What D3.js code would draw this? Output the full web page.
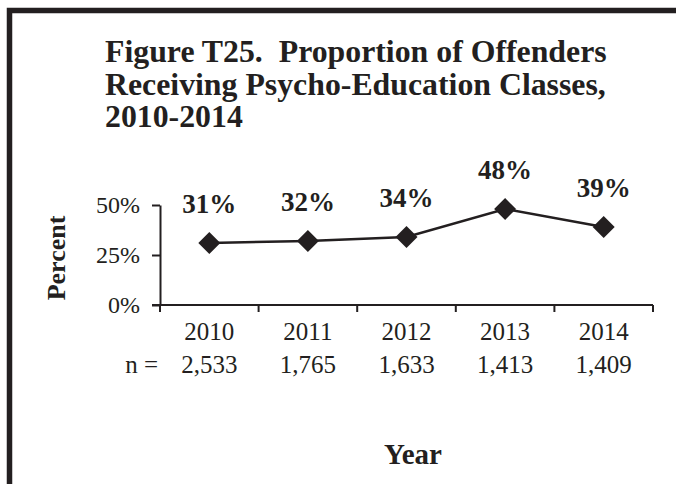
<!DOCTYPE html>
<html>
<head>
<meta charset="utf-8">
<script src="https://cdn.jsdelivr.net/npm/d3@7"></script>
<style>
  html, body { margin: 0; padding: 0; background: #fff; }
  svg { display: block; }
  text { font-family: "Liberation Serif", "Times New Roman", serif; fill: #231f20; }
</style>
</head>
<body>
<svg id="chart" width="676" height="484"></svg>
<script>
const titleLines = ["Figure T25.\u00a0\u00a0Proportion of Offenders", "Receiving Psycho-Education Classes,", "2010-2014"];
const years = ["2010", "2011", "2012", "2013", "2014"];
const nValues = ["2,533", "1,765", "1,633", "1,413", "1,409"];
const percents = [31, 32, 34, 48, 39];
const yTicks = [0, 25, 50];
const yLabel = "Percent";
const xLabel = "Year";
const nPrefix = "n =";

const svg = d3.select("#chart");
const ink = "#231f20";

// frame
svg.append("rect")
  .attr("x", 9.5).attr("y", 10.5)
  .attr("width", 700).attr("height", 500)
  .attr("fill", "none").attr("stroke", ink).attr("stroke-width", 5.5);

// title
const title = svg.append("text")
  .attr("font-weight", "bold").attr("font-size", 31.8);
titleLines.forEach((t, i) => {
  title.append("tspan").attr("x", 105).attr("y", 62 + i * 32.5).text(t);
});

const x = d3.scaleBand().domain(years).range([160, 653]).padding(0);
const y = d3.scaleLinear().domain([0, 50]).range([305, 205]);

// y axis
const yAxis = svg.append("g")
  .attr("transform", "translate(160,0)")
  .call(d3.axisLeft(y).tickValues(yTicks).tickSize(8).tickSizeOuter(0).tickFormat(d => d + "%"));
yAxis.select(".domain").attr("stroke", ink).attr("stroke-width", 2);
yAxis.selectAll(".tick line").attr("stroke", ink).attr("stroke-width", 2);
yAxis.selectAll(".tick text")
  .attr("font-size", 24).attr("x", -20).attr("dy", "0.32em")
  .attr("font-family", "Liberation Serif, Times New Roman, serif").attr("fill", ink);

// x axis with boundary ticks
const xAxisG = svg.append("g").attr("transform", "translate(0,305)");
xAxisG.append("line")
  .attr("x1", x.range()[0] - 8).attr("x2", x.range()[1])
  .attr("stroke", ink).attr("stroke-width", 2);
const bounds = years.map(d => x(d) + x.bandwidth()).concat([x(years[0])]);
xAxisG.selectAll("line.tk").data(bounds).join("line").attr("class", "tk")
  .attr("x1", d => d).attr("x2", d => d).attr("y1", 0).attr("y2", 7)
  .attr("stroke", ink).attr("stroke-width", 2);

// year labels
svg.selectAll("text.year").data(years).join("text").attr("class", "year")
  .attr("x", d => x(d) + x.bandwidth() / 2).attr("y", 340)
  .attr("text-anchor", "middle").attr("font-size", 25).text(d => d);
svg.selectAll("text.n").data(nValues).join("text").attr("class", "n")
  .attr("x", (d, i) => x(years[i]) + x.bandwidth() / 2).attr("y", 373)
  .attr("text-anchor", "middle").attr("font-size", 25).text(d => d);
svg.append("text").attr("x", 158).attr("y", 373).attr("text-anchor", "end")
  .attr("font-size", 25).text(nPrefix);

// line
const pts = years.map((d, i) => [x(d) + x.bandwidth() / 2, y(percents[i])]);
svg.append("path").datum(pts)
  .attr("d", d3.line())
  .attr("fill", "none").attr("stroke", ink).attr("stroke-width", 2.5);

const h = 11;
svg.selectAll("path.mk").data(pts).join("path").attr("class", "mk")
  .attr("d", d => `M${d[0]},${d[1] - h}L${d[0] + h},${d[1]}L${d[0]},${d[1] + h}L${d[0] - h},${d[1]}Z`)
  .attr("fill", ink);

svg.selectAll("text.lbl").data(percents).join("text").attr("class", "lbl")
  .attr("x", (d, i) => pts[i][0]).attr("y", (d, i) => pts[i][1] - 30)
  .attr("text-anchor", "middle").attr("font-weight", "bold").attr("font-size", 27)
  .text(d => d + "%");

// axis titles
svg.append("text")
  .attr("transform", "translate(65,258) rotate(-90)")
  .attr("text-anchor", "middle").attr("font-weight", "bold").attr("font-size", 26)
  .text(yLabel);
svg.append("text")
  .attr("x", 413).attr("y", 464)
  .attr("text-anchor", "middle").attr("font-weight", "bold").attr("font-size", 29)
  .text(xLabel);
</script>
</body>
</html>
